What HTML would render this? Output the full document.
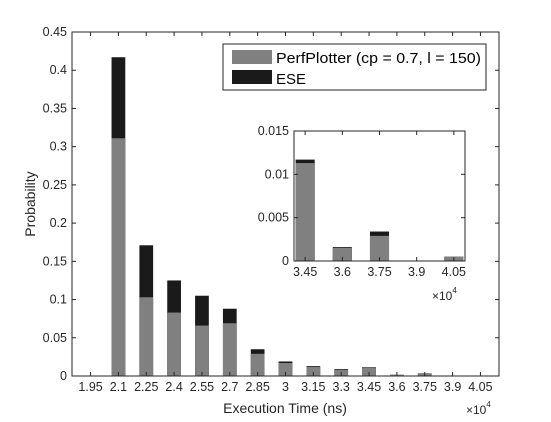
<!DOCTYPE html>
<html><head><meta charset="utf-8"><style>
body{margin:0;background:#fff}
svg{font-family:"Liberation Sans",sans-serif;display:block}
</style></head><body>
<svg id="c" width="551" height="422" viewBox="0 0 551 422"></svg>
<script>
const categories=[1.95,2.1,2.25,2.4,2.55,2.7,2.85,3,3.15,3.3,3.45,3.6,3.75,3.9,4.05];
const perfValues=[0,0.311,0.103,0.083,0.066,0.069,0.029,0.017,0.012,0.008,0.0113,0.0015,0.0029,0,0.0005];
const eseValues=[0,0.417,0.171,0.125,0.105,0.088,0.035,0.019,0.013,0.009,0.0117,0.0016,0.0034,0,0.0005];
const yTicks=[0,0.05,0.1,0.15,0.2,0.25,0.3,0.35,0.4,0.45];
const insetCats=[3.45,3.6,3.75,3.9,4.05];
const insetYTicks=[0,0.005,0.01,0.015];
const NS="http://www.w3.org/2000/svg";
const svg=document.getElementById('c');
function mk(t,a,p,txt){const e=document.createElementNS(NS,t);for(const k in a)e.setAttribute(k,a[k]);if(txt!==undefined)e.textContent=txt;(p||svg).appendChild(e);return e;}
function fmt(v){return String(+v.toFixed(4));}
function drawAxes(L,R,T,B,x0,x1,y0,y1,cats,yt,name,fs,bw){
  const sx=v=>L+(v-x0)/(x1-x0)*(R-L), sy=v=>B-(v-y0)/(y1-y0)*(B-T);
  const g=mk('g',{});
  
  
  mk('rect',{x:L,y:T,width:R-L,height:B-T,fill:'#fff'},g);
  cats.forEach((c,i)=>{
    const idx=categories.indexOf(c);
    const w=bw*(R-L)/(x1-x0);
    const e=mk('rect',{x:sx(c)-w/2,y:sy(eseValues[idx]),width:w,height:B-sy(eseValues[idx]),fill:'#1a1a1a'},g);
    
    
    const p=mk('rect',{x:sx(c)-w/2,y:sy(perfValues[idx]),width:w,height:B-sy(perfValues[idx]),fill:'#808080'},g);
    
    
  });
  mk('rect',{x:L,y:T,width:R-L,height:B-T,fill:'none',stroke:'#262626','stroke-width':1},g);
  cats.forEach(c=>{const x=sx(c);
    mk('line',{x1:x,x2:x,y1:B,y2:B-4,stroke:'#262626'},g);mk('line',{x1:x,x2:x,y1:T,y2:T+4,stroke:'#262626'},g);
    const t=mk('text',{x:x,y:B+15,'text-anchor':'middle','font-size':fs,fill:'#262626'},g,fmt(c));
    });
  yt.forEach(v=>{const y=sy(v);
    mk('line',{x1:L,x2:L+4,y1:y,y2:y,stroke:'#262626'},g);mk('line',{x1:R,x2:R-4,y1:y,y2:y,stroke:'#262626'},g);
    const t=mk('text',{x:L-5,y:y+4,'text-anchor':'end','font-size':fs,fill:'#262626'},g,fmt(v));
    });
  return g;
}
drawAxes(72,499,32,376,1.85,4.15,0,0.45,categories,yTicks,'main-axes',12.5,0.074);
const lg=mk('g',{});

mk('rect',{x:223,y:44,width:263,height:46,fill:'#fff',stroke:'#262626'},lg);
mk('rect',{x:232,y:50,width:40,height:14,fill:'#808080'},lg);
mk('text',{x:276,y:63,'font-size':15,fill:'#000',textLength:205,lengthAdjust:'spacingAndGlyphs'},lg,'PerfPlotter (cp = 0.7, l = 150)');
mk('rect',{x:232,y:70,width:40,height:14,fill:'#1a1a1a'},lg);
mk('text',{x:276,y:84,'font-size':15,fill:'#000'},lg,'ESE');
drawAxes(294,465,131,261,3.405,4.095,0,0.015,insetCats,insetYTicks,'inset-axes',12.5,0.077);
const e1=mk('text',{x:432,y:300,'font-size':12,fill:'#262626'},svg,'×10');

mk('tspan',{dy:-7,'font-size':8},e1,'4');
const e2=mk('text',{x:466,y:414,'font-size':12,fill:'#262626'},svg,'×10');

mk('tspan',{dy:-7,'font-size':8},e2,'4');
const xl=mk('text',{x:285,y:413,'text-anchor':'middle','font-size':14,fill:'#262626'},svg,'Execution Time (ns)');

const yl=mk('text',{x:0,y:0,'text-anchor':'middle','font-size':14,fill:'#262626',transform:'translate(35,204) rotate(-90)'},svg,'Probability');

</script>
</body></html>
